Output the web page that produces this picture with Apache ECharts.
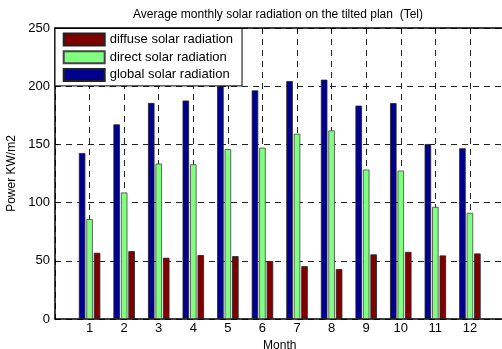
<!DOCTYPE html>
<html>
<head>
<meta charset="utf-8">
<script src="https://cdn.jsdelivr.net/npm/echarts@6/dist/echarts.min.js"></script>
<style>
html,body{margin:0;padding:0;background:#fff;}
#chart{width:502px;height:349px;}
</style>
</head>
<body>
<div id="chart"></div>
<script>
var months = [1,2,3,4,5,6,7,8,9,10,11,12];
var globalRad = [142.6, 167.2, 185.6, 187.7, 200, 196.4, 204.4, 205.6, 183.3, 185.5, 150.3, 146.7];
var directRad = [85.8, 108.7, 133.5, 132.9, 146, 147.2, 159.2, 162, 128.4, 127.5, 96.3, 91.2];
var diffuseRad = [56.9, 58.3, 52.6, 54.9, 54.0, 49.7, 45.4, 42.9, 55.5, 57.7, 54.6, 56.3];
var yTicks = [0, 50, 100, 150, 200, 250];
var names = ['diffuse solar radiation', 'direct solar radiation', 'global solar radiation'];

var FONT = 'Liberation Sans, Arial, Helvetica, sans-serif';
function pairs(vals){ return months.map(function(m,i){ return [m, vals[i]]; }); }

var chart = echarts.init(document.getElementById('chart'));
var gridLine = {show:true, lineStyle:{color:'#222', width:1, type:[6,5]}};
var barCommon = {type:'bar', barWidth:6.5, barGap:'15%', xAxisIndex:0, yAxisIndex:0,
  animation:false};
chart.setOption({
  animation:false,
  backgroundColor:'#fff',
  textStyle:{fontFamily:FONT},
  title:{text:'Average monthly solar radiation on the tilted plan  (Tel)', left:278, top:9, padding:0,
    textAlign:'center',
    textStyle:{fontSize:12, fontWeight:'normal', color:'#000', fontFamily:FONT}},
  legend:{data:names, orient:'vertical', left:55, top:28.5, itemWidth:41, itemHeight:12, itemGap:3.7,
    padding:[4,9,4,7.7], borderColor:'#000', borderWidth:1, backgroundColor:'#fff', icon:'rect',
    textStyle:{fontSize:13, color:'#000', fontFamily:FONT}},
  grid:{left:55, top:28, height:291, width:449.5, containLabel:false, outerBoundsMode:'none'},
  xAxis:[{type:'value', min:0, max:13, interval:1, position:'bottom',
    name:'Month', nameLocation:'middle', nameGap:21,
    nameTextStyle:{fontSize:12, color:'#000', fontFamily:FONT},
    axisLine:{show:true, onZero:false, lineStyle:{color:'#000', width:1.5}},
    axisTick:{show:true, inside:true, length:4, lineStyle:{color:'#000'}},
    axisLabel:{fontSize:13, color:'#000', margin:3, fontFamily:FONT,
      formatter:function(v){ return (v>=1 && v<=12) ? String(v) : ''; }},
    splitLine:gridLine},
   {type:'value', min:0, max:13, interval:1, position:'top',
    axisLine:{show:true, onZero:false, lineStyle:{color:'#000', width:1.5}},
    axisTick:{show:true, inside:true, length:4, lineStyle:{color:'#000'}},
    axisLabel:{show:false}, splitLine:{show:false}}],
  yAxis:{type:'value', min:0, max:250, interval:50,
    name:'Power KW/m2', nameLocation:'middle', nameGap:35, nameRotate:90,
    nameTextStyle:{fontSize:12, color:'#000', fontFamily:FONT},
    axisLine:{show:true, lineStyle:{color:'#000', width:1.5}},
    axisTick:{show:true, inside:true, length:4, lineStyle:{color:'#000'}},
    axisLabel:{fontSize:13, color:'#000', margin:5, fontFamily:FONT,
      formatter:function(v){ return yTicks.indexOf(v)>=0 ? String(v) : ''; }},
    splitLine:gridLine},
  series:[
    Object.assign({name:names[2], data:pairs(globalRad),
      itemStyle:{color:'#00008F', borderColor:'#222', borderWidth:0.8}}, barCommon),
    Object.assign({name:names[1], data:pairs(directRad),
      itemStyle:{color:'#80FF80', borderColor:'#444', borderWidth:0.8}}, barCommon),
    Object.assign({name:names[0], data:pairs(diffuseRad),
      itemStyle:{color:'#800000', borderColor:'#222', borderWidth:0.8}}, barCommon)
  ]
});
</script>
</body>
</html>
